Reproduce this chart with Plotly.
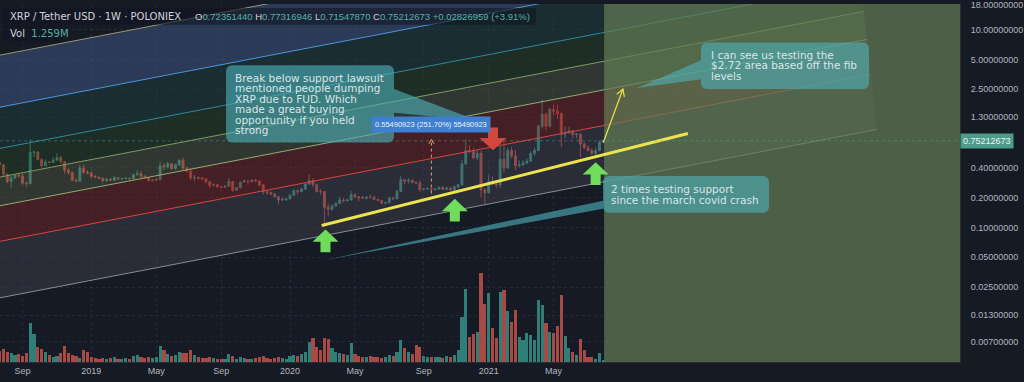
import math
import pandas as pd
import plotly.graph_objects as go

# ---------------- weekly XRP / USDT candles (Poloniex), Monday weeks ----------------
OPEN = [
    # 2018
    0.458, 0.452, 0.430, 0.346, 0.292, 0.318, 0.335, 0.332, 0.281, 0.278,
    0.575, 0.580, 0.485, 0.420, 0.460, 0.455, 0.480, 0.510, 0.465, 0.380,
    0.360, 0.300, 0.295, 0.400, 0.360,
    # 2019
    0.355, 0.327, 0.322, 0.315, 0.298, 0.308, 0.300, 0.318, 0.310, 0.312,
    0.315, 0.312, 0.342, 0.350, 0.330, 0.318, 0.298, 0.302, 0.305, 0.420,
    0.410, 0.440, 0.395, 0.430, 0.480, 0.400, 0.370, 0.318, 0.320, 0.315,
    0.310, 0.290, 0.268, 0.270, 0.258, 0.256, 0.262, 0.292, 0.238, 0.252,
    0.288, 0.295, 0.292, 0.300, 0.295, 0.270, 0.230, 0.225, 0.218, 0.205,
    0.190, 0.192,
    # 2020
    0.195, 0.212, 0.235, 0.230, 0.245, 0.275, 0.300, 0.270, 0.232, 0.230,
    0.160, 0.153, 0.165, 0.175, 0.190, 0.186, 0.190, 0.215, 0.205, 0.200,
    0.198, 0.203, 0.202, 0.192, 0.188, 0.176, 0.178, 0.198, 0.195, 0.232,
    0.305, 0.295, 0.300, 0.285, 0.282, 0.242, 0.245, 0.247, 0.242, 0.245,
    0.255, 0.244, 0.250, 0.240, 0.258, 0.270, 0.440, 0.600, 0.590, 0.505,
    0.560, 0.240,
    # 2021
    0.225, 0.290, 0.275, 0.270, 0.490, 0.400, 0.600, 0.530, 0.420, 0.430,
    0.450, 0.470, 0.560, 0.600, 1.050, 1.400, 1.060, 1.560, 1.500, 1.420,
    0.880, 0.920, 0.950, 0.870, 0.880, 0.700, 0.640, 0.600, 0.560, 0.600,
    0.72351440,
]
HIGH = [
    0.476, 0.462, 0.438, 0.352, 0.336, 0.345, 0.352, 0.347, 0.292, 0.780,
    0.600, 0.590, 0.500, 0.485, 0.470, 0.515, 0.560, 0.530, 0.470, 0.400,
    0.370, 0.315, 0.430, 0.430, 0.380,
    0.370, 0.338, 0.330, 0.320, 0.315, 0.316, 0.335, 0.324, 0.320, 0.322,
    0.320, 0.350, 0.378, 0.375, 0.335, 0.325, 0.308, 0.320, 0.465, 0.450,
    0.460, 0.445, 0.440, 0.495, 0.510, 0.410, 0.400, 0.340, 0.327, 0.325,
    0.318, 0.292, 0.280, 0.275, 0.262, 0.268, 0.315, 0.295, 0.255, 0.290,
    0.305, 0.300, 0.310, 0.312, 0.298, 0.275, 0.240, 0.232, 0.222, 0.206,
    0.200, 0.200,
    0.216, 0.245, 0.242, 0.248, 0.280, 0.345, 0.315, 0.280, 0.245, 0.235,
    0.175, 0.172, 0.180, 0.205, 0.198, 0.195, 0.235, 0.222, 0.208, 0.210,
    0.205, 0.215, 0.208, 0.195, 0.190, 0.182, 0.205, 0.205, 0.240, 0.330,
    0.310, 0.315, 0.310, 0.295, 0.300, 0.252, 0.258, 0.250, 0.248, 0.260,
    0.262, 0.258, 0.258, 0.265, 0.275, 0.480, 0.785, 0.680, 0.640, 0.600,
    0.600, 0.250,
    0.340, 0.330, 0.300, 0.720, 0.760, 0.640, 0.650, 0.610, 0.480, 0.480,
    0.500, 0.590, 0.640, 1.100, 1.960, 1.450, 1.620, 1.760, 1.750, 1.460,
    1.050, 1.050, 0.970, 0.900, 0.890, 0.730, 0.680, 0.630, 0.640, 0.760,
    0.77316946,
]
LOW = [
    0.440, 0.420, 0.332, 0.280, 0.253, 0.310, 0.320, 0.270, 0.256, 0.272,
    0.515, 0.480, 0.405, 0.415, 0.445, 0.450, 0.478, 0.440, 0.350, 0.340,
    0.295, 0.285, 0.290, 0.350, 0.345,
    0.318, 0.315, 0.310, 0.285, 0.290, 0.295, 0.298, 0.305, 0.305, 0.308,
    0.306, 0.308, 0.335, 0.318, 0.315, 0.290, 0.292, 0.292, 0.300, 0.380,
    0.395, 0.380, 0.385, 0.420, 0.380, 0.360, 0.300, 0.295, 0.305, 0.300,
    0.280, 0.250, 0.262, 0.252, 0.250, 0.252, 0.258, 0.230, 0.235, 0.250,
    0.286, 0.270, 0.285, 0.290, 0.260, 0.215, 0.215, 0.212, 0.200, 0.172,
    0.185, 0.186,
    0.192, 0.210, 0.215, 0.228, 0.240, 0.270, 0.255, 0.225, 0.215, 0.110,
    0.130, 0.148, 0.163, 0.172, 0.180, 0.183, 0.188, 0.200, 0.185, 0.196,
    0.192, 0.198, 0.188, 0.185, 0.172, 0.172, 0.176, 0.190, 0.193, 0.230,
    0.275, 0.280, 0.280, 0.275, 0.230, 0.236, 0.242, 0.228, 0.233, 0.240,
    0.242, 0.240, 0.235, 0.232, 0.250, 0.265, 0.430, 0.560, 0.490, 0.480,
    0.200, 0.170,
    0.220, 0.265, 0.250, 0.250, 0.360, 0.395, 0.500, 0.380, 0.405, 0.420,
    0.435, 0.460, 0.530, 0.590, 1.000, 0.960, 1.030, 1.350, 1.250, 0.650,
    0.800, 0.880, 0.790, 0.800, 0.510, 0.620, 0.590, 0.540, 0.510, 0.590,
    0.71547870,
]
CLOSE = [
    0.452, 0.430, 0.346, 0.292, 0.318, 0.335, 0.332, 0.281, 0.278, 0.575,
    0.580, 0.485, 0.420, 0.460, 0.455, 0.480, 0.510, 0.465, 0.380, 0.360,
    0.300, 0.295, 0.400, 0.360, 0.355,
    0.327, 0.322, 0.315, 0.298, 0.308, 0.300, 0.318, 0.310, 0.312, 0.315,
    0.312, 0.342, 0.350, 0.330, 0.318, 0.298, 0.302, 0.305, 0.420, 0.410,
    0.440, 0.395, 0.430, 0.480, 0.400, 0.370, 0.318, 0.320, 0.315, 0.310,
    0.290, 0.268, 0.270, 0.258, 0.256, 0.262, 0.292, 0.238, 0.252, 0.288,
    0.295, 0.292, 0.300, 0.295, 0.270, 0.230, 0.225, 0.218, 0.205, 0.190,
    0.192, 0.195,
    0.212, 0.235, 0.230, 0.245, 0.275, 0.300, 0.270, 0.232, 0.230, 0.160,
    0.153, 0.165, 0.175, 0.190, 0.186, 0.190, 0.215, 0.205, 0.200, 0.198,
    0.203, 0.202, 0.192, 0.188, 0.176, 0.178, 0.198, 0.195, 0.232, 0.305,
    0.295, 0.300, 0.285, 0.282, 0.242, 0.245, 0.247, 0.242, 0.245, 0.255,
    0.244, 0.250, 0.240, 0.258, 0.270, 0.440, 0.600, 0.590, 0.505, 0.560,
    0.240, 0.225,
    0.290, 0.275, 0.270, 0.490, 0.400, 0.600, 0.530, 0.420, 0.430, 0.450,
    0.470, 0.560, 0.600, 1.050, 1.400, 1.060, 1.560, 1.500, 1.420, 0.880,
    0.920, 0.950, 0.870, 0.880, 0.700, 0.640, 0.600, 0.560, 0.600, 0.72385714,
    0.75212673,
]
# weekly volume, millions
VOLUME_M = [
    9, 11, 13, 10, 9, 7, 8, 6, 9, 39, 28, 15, 13, 10, 7, 5, 6, 9, 16, 9,
    7, 6, 4, 12, 10,
    5, 4, 3, 4, 3, 4, 5, 3, 3, 4, 3, 6, 7, 5, 4, 5, 4,
    5, 16, 12, 8, 6, 7, 10, 9,
    9, 12, 7, 5, 4, 4, 5, 4, 3, 3, 3, 8, 6, 3, 5, 4, 3, 3, 4, 5, 6, 4, 3, 4, 5, 4, 3,
    6, 7, 6, 8, 10, 20, 24, 15, 12, 24, 23, 14, 10,
    9, 8, 7, 19, 8, 6, 5, 5,
    6, 5, 5, 4, 5,
    7, 6, 10, 22,
    14, 10, 8, 17, 15,
    6, 5, 5, 5,
    5, 4, 6, 5,
    7, 12, 46, 74, 25,
    28, 30, 90, 59,
    70, 34, 24, 71, 73, 52, 40, 53, 25, 22, 29, 27, 22, 63, 58, 39, 30, 29,
    36, 68, 26, 14, 10, 7, 23, 12, 5, 5, 3, 9, 1.259,
]
WEEKS = pd.date_range(end="2021-08-02", periods=len(OPEN), freq="7D")

# ---------------- fib channel levels (top to bottom) ----------------
FIB_START_DATE = "2018-07-16"
FIB_START_PRICE = [5.43, 1.617, 0.619, 0.3176, 0.163, 0.0711, 0.0191]
FIB_END_DATE = ["2022-10-29", "2022-11-08", "2022-11-16", "2022-11-22",
                "2022-11-28", "2022-12-05", "2022-12-16"]
FIB_END_PRICE = [247.0, 75.5, 29.5, 15.3, 7.98, 3.54, 0.98]
FIB_LINE_COLORS = ["#9a9878", "#4a97e0", "#2f8b96", "#7f9d5e", "#93ae72", "#d9453f", "#8a8d96"]
FIB_BAND_COLORS = ["rgba(60,86,130,0.55)", "rgba(28,64,63,0.5)", "rgba(38,64,40,0.5)",
                   "rgba(74,82,62,0.5)", "rgba(108,38,40,0.55)", "rgba(62,62,75,0.5)"]

# ---------------- drawings ----------------
SUPPORT_DATES = ["2020-03-04", "2022-01-04"]
SUPPORT_PRICES = [0.1047, 0.891]
TARGET_DATES = ["2021-08-02", "2021-09-07"]
TARGET_PRICES = [0.7235, 2.51]
MEASURE_DATE = "2020-09-21"
MEASURE_PRICES = [0.22046453, 0.77537376]
TEST_DATES = ["2020-03-11", "2020-11-03", "2021-07-19"]
TEST_PRICES = [0.0955, 0.195, 0.457]
DUMP_DATE = "2021-01-12"
DUMP_PRICE = 0.603
FORECAST_START = "2021-08-03 12:00"

PRICE_TICKS = [18, 10, 5, 2.5, 1.3, 0.4, 0.2, 0.1, 0.05, 0.025, 0.013, 0.007]
TIME_TICKS = ["2018-09-03", "2019-01-07", "2019-05-06", "2019-09-02", "2020-01-06",
              "2020-05-04", "2020-09-07", "2021-01-04", "2021-05-03"]
TIME_LABELS = ["Sep", "2019", "May", "Sep", "2020", "May", "Sep", "2021", "May"]

NOTE_LAWSUIT = ["Break below support lawsuit", "mentioned people dumping",
                "XRP due to FUD. Which", "made a great buying",
                "opportunity if you held", "strong"]
NOTE_TARGET = ["I can see us testing the", "$2.72 area based off the fib", "levels"]
NOTE_SUPPORT = ["2 times testing support", "since the march covid crash"]

# ---------------- styling / pane geometry ----------------
BG = "#161a25"
UP, DOWN = "#45a595", "#de5b4d"
VOL_UP, VOL_DOWN = "#2f7f78", "#a64a45"
AXIS_TEXT = "#b2b5be"
NOTE_FILL = "rgba(78,176,184,0.62)"
NOTE_TEXT = "#dbe4e8"
MARK_GREEN = "#6fdc5c"
MARK_RED = "#d2483e"
YELLOW = "#ece34e"

W, H = 1024, 382
PLOT_W, PLOT_H = 960, 362
PX_PER_DAY = 0.5458
X_REF_DATE, X_REF_PX = pd.Timestamp("2020-01-06"), 290
X_START = X_REF_DATE - pd.Timedelta(days=X_REF_PX / PX_PER_DAY)
X_END = X_START + pd.Timedelta(days=PLOT_W / PX_PER_DAY)
LOG_TOP = 1.26
LOG_BOT = LOG_TOP - PLOT_H / 100.0


def px_x(d):
    return (pd.Timestamp(d) - X_START) / pd.Timedelta(days=1) * PX_PER_DAY


def px_y(p):
    return (LOG_TOP - math.log10(p)) * 100.0


def paper(x, y):
    return x / PLOT_W, 1 - y / PLOT_H


def svg_path(points, close=True):
    out = []
    for i, (x, y) in enumerate(points):
        u, v = paper(x, y)
        out.append(("M" if i == 0 else "L") + f"{u:.5f},{v:.5f}")
    return " ".join(out) + (" Z" if close else "")


def bubble(x0, y0, x1, y1, r, side, a, b, tip):
    pts = []

    def arc(cx, cy, t0, t1):
        for k in range(6):
            t = math.radians(t0 + (t1 - t0) * k / 5)
            pts.append((cx + r * math.cos(t), cy + r * math.sin(t)))

    arc(x0 + r, y0 + r, 180, 270)
    arc(x1 - r, y0 + r, 270, 360)
    if side == "right":
        pts.extend([(x1, a), tip, (x1, b)])
    arc(x1 - r, y1 - r, 0, 90)
    arc(x0 + r, y1 - r, 90, 180)
    if side == "left":
        pts.extend([(x0, b), tip, (x0, a)])
    return pts


def block_arrow(cx, tip_y, pointing_up, length=23, head_w=26, head_h=12.5, shaft_w=10):
    s = 1 if pointing_up else -1
    neck = tip_y + s * head_h
    base = tip_y + s * length
    return [(cx, tip_y), (cx + head_w / 2, neck), (cx + shaft_w / 2, neck),
            (cx + shaft_w / 2, base), (cx - shaft_w / 2, base),
            (cx - shaft_w / 2, neck), (cx - head_w / 2, neck)]


def open_head(x0, y0, x1, y1, size):
    ang = math.atan2(y1 - y0, x1 - x0)
    pts = []
    for da in (math.radians(150), math.radians(-150)):
        pts.append((x1 + size * math.cos(ang + da), y1 + size * math.sin(ang + da)))
    return [pts[0], (x1, y1), pts[1]]


fig = go.Figure()

# fib channel bands and level lines
for k, color in enumerate(FIB_BAND_COLORS):
    fig.add_trace(go.Scatter(
        x=[FIB_START_DATE, FIB_END_DATE[k], FIB_END_DATE[k + 1], FIB_START_DATE],
        y=[FIB_START_PRICE[k], FIB_END_PRICE[k], FIB_END_PRICE[k + 1], FIB_START_PRICE[k + 1]],
        fill="toself", fillcolor=color, line=dict(width=0), mode="lines",
        hoverinfo="skip"))
for k, color in enumerate(FIB_LINE_COLORS):
    fig.add_trace(go.Scatter(
        x=[FIB_START_DATE, FIB_END_DATE[k]], y=[FIB_START_PRICE[k], FIB_END_PRICE[k]],
        mode="lines", line=dict(color=color, width=1), hoverinfo="skip"))

# projection zone
zone_lo, zone_hi = 10 ** LOG_BOT, 10 ** LOG_TOP
fig.add_trace(go.Scatter(
    x=[FORECAST_START, X_END, X_END, FORECAST_START],
    y=[zone_lo, zone_lo, zone_hi, zone_hi],
    fill="toself", fillcolor="rgba(99,123,84,0.72)", line=dict(width=0),
    mode="lines", hoverinfo="skip"))

# volume
vol_colors = [VOL_UP if c >= o else VOL_DOWN for o, c in zip(OPEN, CLOSE)]
fig.add_trace(go.Bar(x=WEEKS, y=VOLUME_M, marker=dict(color=vol_colors, line=dict(width=0)),
                     width=5.8 * 86400000, yaxis="y2", hoverinfo="skip"))

# candles
fig.add_trace(go.Candlestick(
    x=WEEKS, open=OPEN, high=HIGH, low=LOW, close=CLOSE,
    increasing=dict(line=dict(color=UP, width=1), fillcolor=UP),
    decreasing=dict(line=dict(color=DOWN, width=1), fillcolor=DOWN),
    whiskerwidth=0, hoverinfo="skip"))

# support trend line
fig.add_trace(go.Scatter(x=SUPPORT_DATES, y=SUPPORT_PRICES, mode="lines",
                         line=dict(color=YELLOW, width=3), hoverinfo="skip"))

# last price line
fig.add_trace(go.Scatter(x=[X_START, X_END], y=[CLOSE[-1], CLOSE[-1]], mode="lines",
                         line=dict(color="rgba(80,170,150,0.45)", width=1, dash="dot"),
                         hoverinfo="skip"))

# price range measurement
fig.add_trace(go.Scatter(x=[MEASURE_DATE, MEASURE_DATE], y=MEASURE_PRICES, mode="lines",
                         line=dict(color="#e8a06c", width=1, dash="dot"), hoverinfo="skip"))

# target path
fig.add_trace(go.Scatter(x=TARGET_DATES, y=TARGET_PRICES, mode="lines",
                         line=dict(color=YELLOW, width=1.2), hoverinfo="skip"))

shapes = []
# legend header backdrop
HDR_BG = "rgba(19,23,34,0.62)"
for x0, y0, x1, y1 in ((3, 4, 536, 21), (3, 22, 62, 38)):
    u0, v0 = paper(x0, y1)
    u1, v1 = paper(x1, y0)
    shapes.append(dict(type="rect", xref="paper", yref="paper", x0=u0, y0=v0, x1=u1, y1=v1,
                       fillcolor=HDR_BG, line=dict(width=0), layer="above"))

# note bubbles
for pts in (
    bubble(226, 62, 394, 140, 6, "right", 86, 110, (478, 118)),
    bubble(701, 39, 869, 86, 6, "left", 57, 76, (637, 85)),
    bubble(603, 174, 769, 211, 6, "left", 199, 207,
           (px_x(TEST_DATES[0]) - 1, px_y(TEST_PRICES[0]) + 31)),
):
    shapes.append(dict(type="path", xref="paper", yref="paper", path=svg_path(pts),
                       fillcolor=NOTE_FILL, line=dict(width=0), layer="above"))

# support test markers and lawsuit dump marker
for d, p in zip(TEST_DATES, TEST_PRICES):
    shapes.append(dict(type="path", xref="paper", yref="paper",
                       path=svg_path(block_arrow(px_x(d), px_y(p), True)),
                       fillcolor=MARK_GREEN, line=dict(width=0), layer="above"))
shapes.append(dict(type="path", xref="paper", yref="paper",
                   path=svg_path(block_arrow(px_x(DUMP_DATE), px_y(DUMP_PRICE), False, head_w=27)),
                   fillcolor=MARK_RED, line=dict(width=0), layer="above"))

tx0, ty0 = px_x(TARGET_DATES[0]), px_y(TARGET_PRICES[0])
tx1, ty1 = px_x(TARGET_DATES[1]), px_y(TARGET_PRICES[1])
shapes.append(dict(type="path", xref="paper", yref="paper",
                   path=svg_path(open_head(tx0, ty0, tx1, ty1, 8), close=False),
                   line=dict(color=YELLOW, width=1.2), layer="above"))
mx = px_x(MEASURE_DATE)
shapes.append(dict(type="path", xref="paper", yref="paper",
                   path=svg_path(open_head(mx, px_y(MEASURE_PRICES[0]), mx, px_y(MEASURE_PRICES[1]), 5),
                                 close=False),
                   line=dict(color="#e8a06c", width=1), layer="above"))

annotations = []


def note_lines(lines, x, y_first, step=10.6):
    for i, t in enumerate(lines):
        u, v = paper(x, y_first + i * step)
        annotations.append(dict(text=t, xref="paper", yref="paper", x=u, y=v,
                                xanchor="left", yanchor="middle", showarrow=False,
                                font=dict(family="DejaVu Sans", size=10.5, color=NOTE_TEXT)))


note_lines(NOTE_LAWSUIT, 233, 74.5)
note_lines(NOTE_TARGET, 709, 51.5)
note_lines(NOTE_SUPPORT, 609, 187.3)

# measurement label
delta = MEASURE_PRICES[1] - MEASURE_PRICES[0]
pct = delta / MEASURE_PRICES[0] * 100
u, v = paper(mx, 122)
annotations.append(dict(
    text=f"{delta:.8f} ({pct:.2f}%) {round(delta * 1e8):d}", xref="paper", yref="paper",
    x=u, y=v, xanchor="center", yanchor="middle", showarrow=False,
    bgcolor="#3f7fd0", borderpad=3,
    font=dict(family="Liberation Sans", size=7.5, color="#eef3fb")))

# legend header
TITLE_C, VAL_C = "#d1d4dc", "#4fb3a4"
chg = CLOSE[-1] - CLOSE[-2]
chg_pct = chg / CLOSE[-2] * 100
u, v = paper(8, 12.5)
annotations.append(dict(text="XRP / Tether USD · 1W · POLONIEX", xref="paper", yref="paper",
                        x=u, y=v, xanchor="left", yanchor="middle", showarrow=False,
                        font=dict(family="DejaVu Sans", size=10, color=TITLE_C)))
ohlc = (f"O<span style='color:{VAL_C}'>{OPEN[-1]:.8f}</span>"
        f" H<span style='color:{VAL_C}'>{HIGH[-1]:.8f}</span>"
        f" L<span style='color:{VAL_C}'>{LOW[-1]:.8f}</span>"
        f" C<span style='color:{VAL_C}'>{CLOSE[-1]:.8f}</span>"
        f"<span style='color:{VAL_C}'> {chg:+.8f} ({chg_pct:+.2f}%)</span>")
u, v = paper(193, 12.5)
annotations.append(dict(text=ohlc, xref="paper", yref="paper", x=u, y=v, xanchor="left",
                        yanchor="middle", showarrow=False,
                        font=dict(family="Liberation Sans", size=9.5, color=TITLE_C)))
u, v = paper(8, 30)
annotations.append(dict(
    text=f"Vol<span style='color:{VAL_C}'>  {VOLUME_M[-1]:.3f}M</span>",
    xref="paper", yref="paper", x=u, y=v, xanchor="left", yanchor="middle", showarrow=False,
    font=dict(family="DejaVu Sans", size=10, color=TITLE_C)))

# last price tag on the price scale
u, v = paper(PLOT_W, px_y(CLOSE[-1]))
annotations.append(dict(text=f"{CLOSE[-1]:.8f}", xref="paper", yref="paper", x=u, y=v,
                        xanchor="left", yanchor="middle", showarrow=False,
                        bgcolor="#4c9c89", borderpad=2,
                        font=dict(family="Liberation Sans", size=9, color="#f0f3f5")))

fig.update_layout(
    width=W, height=H, margin=dict(l=0, r=W - PLOT_W, t=0, b=H - PLOT_H),
    paper_bgcolor=BG, plot_bgcolor=BG, showlegend=False,
    shapes=shapes, annotations=annotations,
    xaxis=dict(type="date", range=[X_START, X_END], rangeslider=dict(visible=False),
               tickvals=TIME_TICKS, ticktext=TIME_LABELS, ticks="",
               tickfont=dict(family="Liberation Sans", size=9, color=AXIS_TEXT),
               showgrid=True, gridcolor="rgba(120,123,134,0.16)", griddash="dot",
               showline=True, linecolor="#2a2e39", zeroline=False, fixedrange=True),
    yaxis=dict(type="log", range=[LOG_BOT, LOG_TOP], side="right",
               tickvals=PRICE_TICKS, ticktext=[f"{t:.8f}" for t in PRICE_TICKS], ticks="",
               ticklabelstandoff=8, ticklabeloverflow="allow",
               tickfont=dict(family="Liberation Sans", size=9, color=AXIS_TEXT),
               showgrid=True, gridcolor="rgba(120,123,134,0.16)", griddash="dot",
               showline=True, linecolor="#2a2e39", zeroline=False),
    yaxis2=dict(overlaying="y", range=[0, PLOT_H], visible=False, showgrid=False),
    bargap=0,
)

fig.write_html("out.html")
